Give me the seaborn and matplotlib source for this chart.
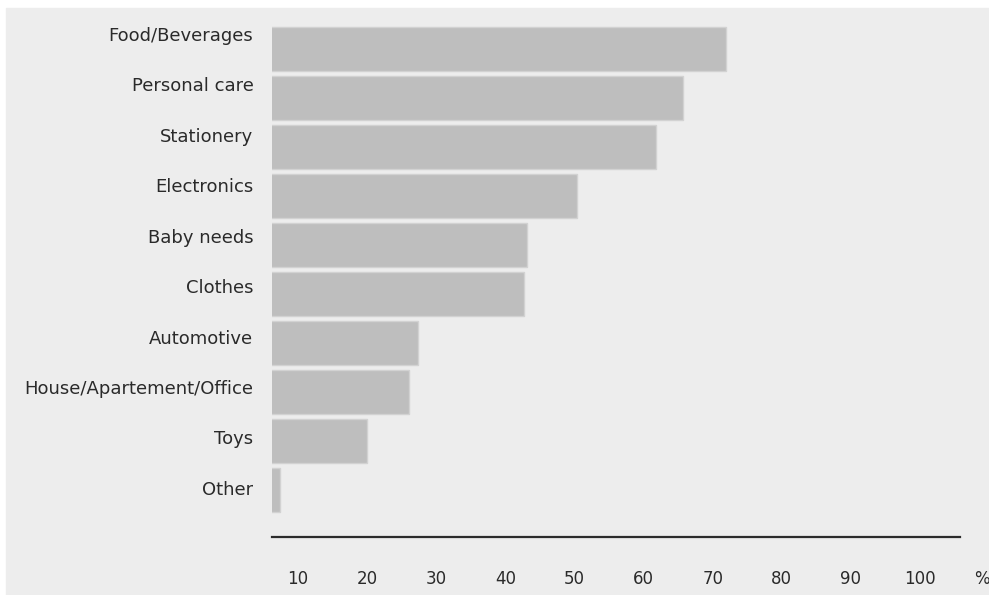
import numpy as np
import pandas as pd
import matplotlib
matplotlib.use("Agg")
import matplotlib.pyplot as plt
import matplotlib.transforms as mtransforms
from matplotlib.patches import Rectangle
import seaborn as sns

# Data (percent of respondents)
categories = ['Food/Beverages', 'Personal care', 'Stationery', 'Electronics',
              'Baby needs', 'Clothes', 'Automotive', 'House/Apartement/Office',
              'Toys', 'Other']
values = [71.9, 65.7, 61.8, 50.4, 43.1, 42.7, 27.3, 26.1, 19.9, 7.4]
ticks = [10, 20, 30, 40, 50, 60, 70, 80, 90, 100]

bg = '#ededed'
bar_color = '#bebebe'
text_color = '#2a2a2a'

sns.set_style('white')
plt.rcParams['font.family'] = ['DejaVu Sans']

df = pd.DataFrame({'category': categories, 'value': values})

fig = plt.figure(figsize=(9.89, 5.95), dpi=100)
fig.patch.set_facecolor('white')
# grey panel behind the chart (small white strip on top and left)
fig.patches.append(Rectangle((6 / 989, 0), 1 - 6 / 989, 1 - 8 / 595,
                             transform=fig.transFigure, color=bg, zorder=-10))

ax = fig.add_axes([271.5 / 989, 1 - 537 / 595, (960 - 271.5) / 989, (537 - 8) / 595])
ax.set_facecolor('none')

sns.barplot(data=df, x='value', y='category', ax=ax, color=bar_color,
            width=0.9, saturation=1, edgecolor='#d2d2d2', linewidth=1)

ax.set_xlim(6.15, 105.8)
ax.set_ylim(9.96, -0.84)
ax.set_xticks(ticks)
ax.set_xticklabels([str(t) for t in ticks])
ax.set_xlabel('')
ax.set_ylabel('')

for s in ['top', 'right', 'left']:
    ax.spines[s].set_visible(False)
ax.spines['bottom'].set_color('#2b2b2b')
ax.spines['bottom'].set_linewidth(1.6)

ax.tick_params(axis='x', length=0, pad=24, labelsize=12, colors=text_color)
ax.tick_params(axis='y', length=0, pad=13, labelsize=13, colors=text_color)

# in the original the category labels are spaced slightly wider than the bars
n = len(categories)
for i, lbl in enumerate(ax.get_yticklabels()):
    shift = mtransforms.ScaledTranslation(0, (2 + (n - 1 - i) * 1.5) / 100, fig.dpi_scale_trans)
    lbl.set_transform(lbl.get_transform() + shift)

# percent sign to the right of the last tick
trans = mtransforms.blended_transform_factory(ax.transData, fig.transFigure)
ax.text(109, 1 - 579 / 595, '%', transform=trans, ha='center', va='center',
        fontsize=12, color=text_color, clip_on=False)

plt.savefig('out.png', dpi=100, facecolor=fig.get_facecolor())
